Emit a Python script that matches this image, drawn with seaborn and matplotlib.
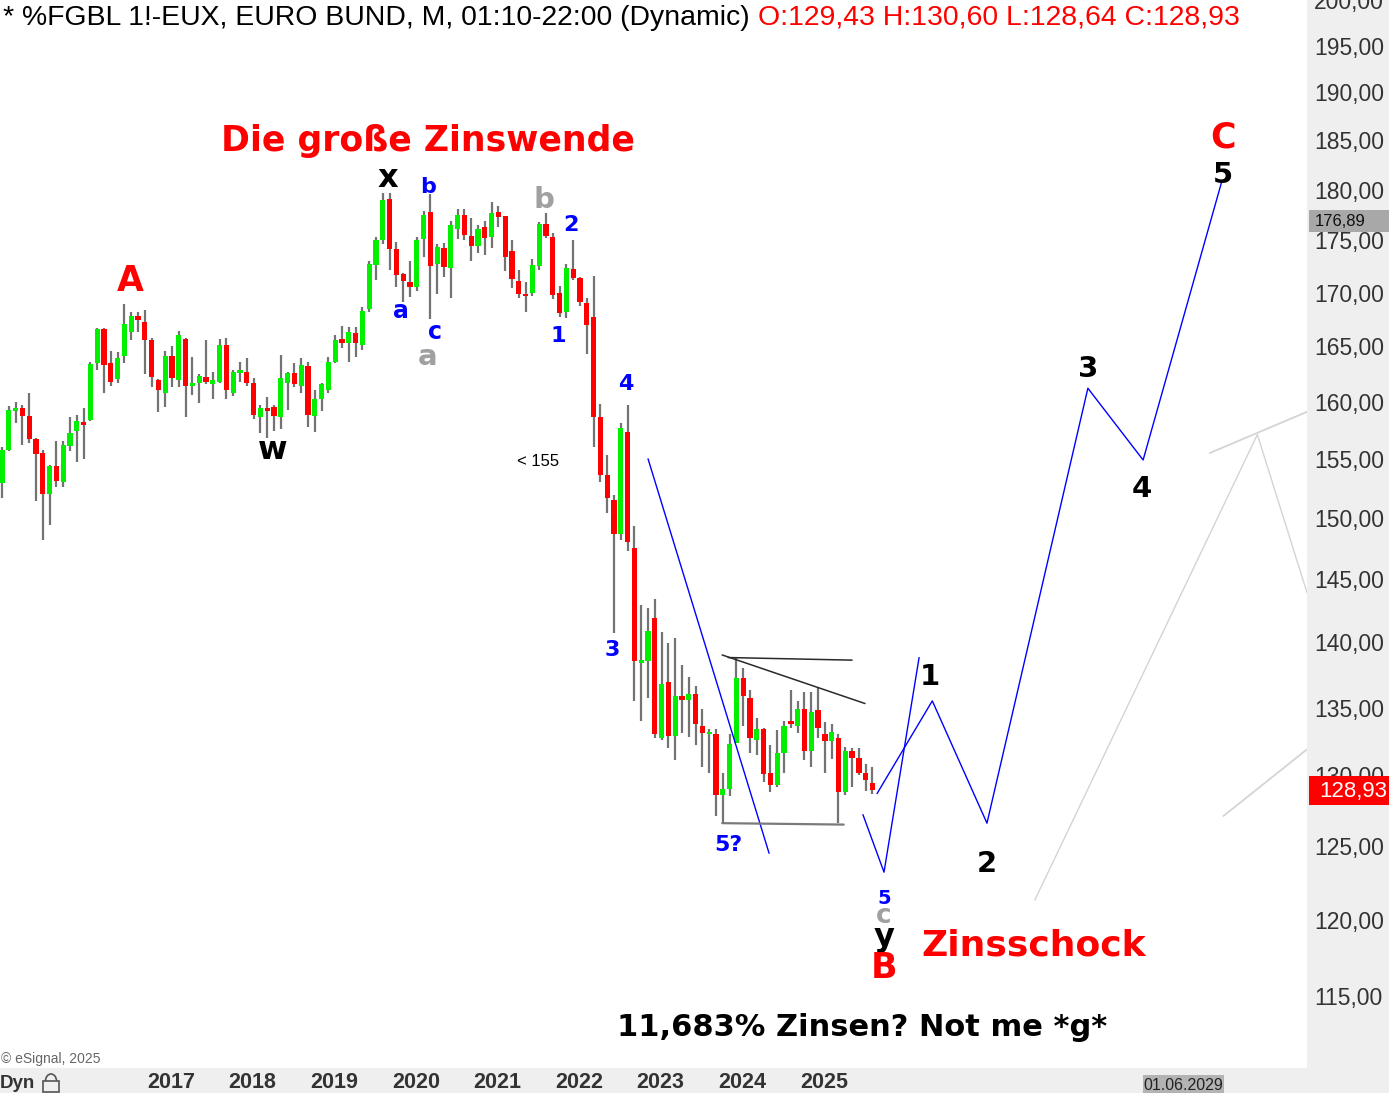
import numpy as np
import pandas as pd
import matplotlib
matplotlib.use('Agg')
import matplotlib.pyplot as plt
import seaborn as sns
from matplotlib.patches import Rectangle, Arc
from matplotlib.ticker import FixedLocator, NullLocator

sns.set_theme(style='white')
plt.rcParams['font.family'] = ['Liberation Sans', 'DejaVu Sans']

# monthly EURO BUND candles, Dec 2014 .. Aug 2025
months = pd.period_range('2014-12', '2025-08', freq='M')
opens = [152.9, 155.8, 159.2, 159.4, 158.7, 156.7, 155.5, 152.0, 154.4, 153.0,
         156.1, 157.4, 158.2, 158.4, 163.5, 166.6, 163.5, 162.0, 164.1, 166.3,
         167.8, 167.2, 165.6, 161.9, 160.8, 164.1, 161.9, 165.7, 161.4, 161.7,
         162.2, 161.6, 161.8, 165.1, 160.8, 162.6, 162.7, 161.7, 158.6, 159.4,
         159.5, 158.6, 161.7, 162.6, 161.4, 163.2, 158.7, 160.2, 161.0, 163.6,
         165.7, 165.3, 166.2, 165.1, 168.5, 172.6, 175.0, 179.1, 174.2, 171.8,
         171.0, 170.5, 175.1, 177.8, 172.7, 174.3, 172.3, 176.1, 177.5, 175.4,
         174.5, 176.3, 175.3, 177.8, 177.4, 174.0, 171.1, 169.9, 170.0, 172.5,
         176.6, 175.3, 170.0, 168.2, 172.2, 171.4, 169.0, 167.7, 158.6, 153.6,
         151.5, 148.7, 157.3, 147.5, 138.4, 138.5, 141.9, 132.7, 136.9, 132.9,
         135.9, 135.6, 136.0, 133.6, 133.0, 133.0, 128.6, 129.0, 132.4, 137.2,
         135.7, 132.6, 133.4, 130.2, 129.3, 131.6, 134.0, 133.6, 134.9, 131.8,
         134.8, 133.0, 132.5, 132.7, 128.8, 131.8, 131.3, 130.2, 129.43]
highs = [156.0, 159.6, 160.0, 159.7, 160.8, 156.8, 155.8, 154.5, 156.5, 156.5,
         158.6, 158.8, 159.4, 163.6, 166.7, 166.7, 164.6, 164.5, 168.9, 168.2,
         168.2, 168.4, 165.8, 162.0, 164.6, 165.0, 166.4, 165.8, 164.0, 162.5,
         165.6, 162.7, 165.7, 165.8, 162.8, 163.6, 163.9, 162.1, 159.7, 160.4,
         159.7, 164.2, 162.7, 163.5, 163.9, 163.6, 161.0, 161.7, 164.0, 166.0,
         166.9, 166.8, 166.8, 168.6, 173.0, 175.3, 179.7, 179.7, 174.8, 171.9,
         173.0, 175.3, 177.9, 179.6, 174.6, 174.7, 176.9, 178.1, 178.1, 177.2,
         176.5, 176.9, 178.8, 178.4, 177.4, 175.0, 172.1, 171.0, 173.2, 176.8,
         177.7, 175.7, 170.6, 172.7, 175.0, 171.5, 169.5, 171.6, 159.8, 155.3,
         151.9, 158.1, 159.7, 149.3, 142.9, 142.7, 143.4, 140.8, 139.9, 140.3,
         138.2, 137.3, 136.6, 134.9, 133.4, 133.4, 130.2, 133.0, 138.8, 138.0,
         136.3, 134.2, 133.5, 132.2, 133.3, 134.0, 136.3, 135.5, 136.2, 136.2,
         136.5, 133.9, 133.8, 133.0, 132.1, 132.0, 132.0, 130.8, 130.60]
lows = [151.7, 155.7, 158.1, 156.2, 156.4, 151.4, 148.2, 149.4, 152.6, 152.6,
        155.7, 154.7, 155.0, 158.3, 162.8, 160.8, 161.4, 161.7, 163.5, 165.6,
        166.3, 162.5, 161.3, 159.1, 159.5, 161.3, 161.3, 158.6, 160.6, 159.9,
        161.6, 160.2, 161.7, 160.2, 160.5, 161.8, 161.4, 158.5, 157.2, 156.8,
        157.4, 157.6, 159.3, 161.3, 160.8, 157.8, 157.3, 159.2, 160.8, 163.5,
        164.8, 163.6, 164.0, 164.7, 168.2, 171.2, 174.6, 172.1, 170.5, 169.1,
        169.6, 170.1, 173.4, 167.5, 169.9, 171.5, 169.5, 175.1, 175.0, 173.0,
        173.8, 173.6, 174.3, 176.3, 172.0, 170.4, 169.5, 168.2, 169.7, 172.1,
        175.2, 169.4, 167.7, 167.6, 171.2, 168.7, 164.3, 156.0, 153.0, 150.4,
        140.7, 148.2, 147.3, 135.5, 134.0, 135.7, 132.7, 132.6, 132.0, 131.1,
        133.1, 132.8, 132.2, 130.6, 130.2, 127.1, 126.6, 128.5, 132.4, 133.6,
        131.6, 131.5, 129.5, 128.8, 129.2, 130.2, 133.5, 133.1, 131.1, 130.6,
        132.7, 130.2, 131.2, 126.6, 128.6, 129.2, 130.0, 128.9, 128.64]
closes = [155.8, 159.3, 159.4, 158.7, 156.7, 155.4, 152.0, 154.4, 153.1, 156.2,
          157.2, 158.3, 157.9, 163.4, 166.6, 163.3, 161.8, 163.9, 167.1, 167.8,
          167.4, 165.6, 162.2, 161.0, 164.1, 162.1, 166.0, 161.4, 161.7, 162.3,
          161.8, 161.9, 165.1, 161.0, 162.7, 162.7, 161.7, 158.8, 159.4, 159.2,
          158.7, 162.1, 162.6, 161.6, 163.3, 158.8, 160.2, 161.6, 163.6, 165.6,
          165.3, 166.3, 165.3, 168.3, 172.7, 175.0, 179.0, 174.2, 171.7, 171.1,
          170.5, 175.0, 177.5, 172.5, 174.4, 172.4, 176.5, 177.5, 175.5, 174.5,
          176.1, 175.2, 177.7, 177.3, 173.4, 171.3, 169.9, 169.7, 172.6, 176.6,
          175.4, 169.8, 168.1, 172.3, 171.4, 169.1, 167.0, 158.6, 153.6, 151.7,
          148.7, 157.7, 148.0, 138.5, 138.5, 140.9, 133.0, 136.8, 132.9, 135.9,
          135.6, 136.0, 133.8, 133.1, 133.2, 128.6, 129.0, 132.3, 137.2, 135.9,
          132.7, 133.4, 130.1, 129.3, 131.6, 133.6, 133.8, 134.9, 131.8, 134.7,
          133.5, 132.5, 133.2, 128.8, 131.8, 131.3, 130.2, 129.7, 128.93]

year_ticks = list(range(2017, 2026))
price_ticks = list(range(115, 205, 5))

# drawn wave count / projection (date, price)
wave5q_dates = ['2022-11-01', '2024-04-25']
wave5q_prices = [155.0, 124.5]
low_leg_dates = ['2025-06-19', '2025-09-22', '2026-02-25']
low_leg_prices = [127.2, 123.2, 138.8]
impulse_dates = ['2025-08-22', '2026-04-25', '2026-12-27', '2028-03-22', '2028-11-25', '2029-11-13']
impulse_prices = [128.7, 135.5, 126.6, 161.2, 154.9, 180.9]
tri_flat_dates = ['2023-10-25', '2025-05-01']
tri_flat_prices = [138.8, 138.6]
tri_slope_dates = ['2023-09-28', '2025-06-28']
tri_slope_prices = [139.0, 135.3]
tri_base_dates = ['2023-09-28', '2025-03-25']
tri_base_prices = [126.6, 126.5]
grey_a_dates = ['2029-09-19', '2030-11-28']
grey_a_prices = [155.5, 159.1]
grey_b_dates = ['2027-07-28', '2030-04-19', '2030-11-28']
grey_b_prices = [121.3, 157.1, 143.9]
grey_c_dates = ['2029-11-19', '2030-11-28']
grey_c_prices = [127.1, 131.9]


def mpos(d):
    t = pd.Timestamp(d)
    return (t.year - 2014) * 12 + t.month - 12 + (t.day - 1) / t.days_in_month


W, H = 1389, 1093
PW, PH = 1307, 1068

fig = plt.figure(figsize=(W / 100, H / 100), dpi=100, facecolor='#efefef')
ax = fig.add_axes([0, (H - PH) / H, PW / W, PH / H])
ax.set_facecolor('white')

# candles
df = pd.DataFrame({'month': months.astype(str), 'open': opens, 'high': highs,
                   'low': lows, 'close': closes})
df['pos'] = np.arange(len(df))
df['up'] = df['close'] >= df['open']
body_lo = np.minimum(df['open'], df['close'])
body_h = np.maximum((df['close'] - df['open']).abs(), 0.2)
ax.vlines(df['pos'], df['low'], df['high'], color='#737373', lw=1.6, zorder=2)
ax.bar(df['pos'], body_h, bottom=body_lo, width=0.78,
       color=np.where(df['up'], '#00f000', '#ff0000'), linewidth=0, zorder=3)


def path(dates, prices, color, lw, z=4):
    sns.lineplot(x=[mpos(d) for d in dates], y=prices, sort=False, estimator=None,
                 color=color, lw=lw, ax=ax, zorder=z)


path(wave5q_dates, wave5q_prices, '#0000ff', 1.0)
path(low_leg_dates, low_leg_prices, '#0000ff', 1.0)
path(impulse_dates, impulse_prices, '#0000ff', 1.0)
path(tri_flat_dates, tri_flat_prices, '#2a2a2a', 1.1)
path(tri_slope_dates, tri_slope_prices, '#2a2a2a', 1.1)
path(tri_base_dates, tri_base_prices, '#7a7a7a', 1.6)
path(grey_a_dates, grey_a_prices, '#d4d4d4', 1.3, 1)
path(grey_b_dates, grey_b_prices, '#d4d4d4', 1.0, 1)
path(grey_c_dates, grey_c_prices, '#d4d4d4', 1.3, 1)

ax.set_yscale('log')
ax.set_xlim(-0.294, 191.9)
ax.set_ylim(110.5, 200.0)
for s in ax.spines.values():
    s.set_visible(False)
ax.grid(False)

ax.yaxis.tick_right()
ax.yaxis.set_major_locator(FixedLocator(price_ticks))
ax.yaxis.set_minor_locator(NullLocator())
ax.set_yticklabels([f'{v:.2f}'.replace('.', ',') for v in price_ticks])
ax.tick_params(axis='y', length=0, pad=5, labelsize=16.5, labelcolor='#333333')
ax.set_xticks([mpos(f'{y}-01-01') - 0.15 for y in year_ticks])
ax.set_xticklabels([str(y) for y in year_ticks], fontweight='bold')
ax.tick_params(axis='x', length=0, pad=3, labelsize=15.5, labelcolor='#333333')
ax.set_xlabel('')
ax.set_ylabel('')


def lab(x, y, s, color, size, weight='bold', family='DejaVu Sans'):
    ax.text(x / PW, 1 - y / PH, s, transform=ax.transAxes, ha='center', va='baseline',
            color=color, fontsize=size, fontweight=weight, family=family, zorder=6)


RED, BLUE, GREY = '#ff0000', '#0000ff', '#a0a0a0'
lab(428, 151, 'Die große Zinswende', RED, 25)
lab(130, 291, 'A', RED, 25)
lab(388, 187, 'x', 'black', 23)
lab(273, 459, 'w', 'black', 23)
lab(428, 193, 'b', BLUE, 16)
lab(401, 318, 'a', BLUE, 17)
lab(435, 339, 'c', BLUE, 17)
lab(428, 365, 'a', GREY, 21)
lab(544, 208, 'b', GREY, 21)
lab(571, 231, '2', BLUE, 16)
lab(558, 342, '1', BLUE, 16)
lab(626, 390, '4', BLUE, 16)
lab(612, 656, '3', BLUE, 16)
lab(728, 851, '5?', BLUE, 16)
lab(538, 466, '< 155', 'black', 12, 'normal', 'Liberation Sans')
lab(884, 904, '5', BLUE, 14)
lab(884, 923, 'c', GREY, 19)
lab(884, 946, 'y', 'black', 23)
lab(884, 978, 'B', RED, 25)
lab(1034, 955, 'Zinsschock', RED, 26)
lab(930, 685, '1', 'black', 21)
lab(987, 872, '2', 'black', 21)
lab(1088, 377, '3', 'black', 21)
lab(1142, 497, '4', 'black', 21)
lab(1223, 183, '5', 'black', 21)
lab(1223, 147, 'C', RED, 25)
lab(862, 1036, '11,683% Zinsen? Not me *g*', 'black', 22)
ax.text(1 / PW, 1 - 1063 / PH, '© eSignal, 2025', transform=ax.transAxes,
        fontsize=10, color='#666666', va='baseline', ha='left')


# header line
def fx(x):
    return x / W


def fy(y):
    return 1 - y / H


hdr = fig.text(fx(3), fy(18), '* %FGBL 1!-EUX, EURO BUND, M, 01:10-22:00 (Dynamic)',
               fontsize=20.4, color='black', va='center', ha='left', zorder=5)
fig.canvas.draw()
bb = hdr.get_window_extent()
fig.text(bb.x1 / W + fx(8), fy(18), 'O:129,43 H:130,60 L:128,64 C:128,93',
         fontsize=20.4, color='#ff0000', va='center', ha='left', zorder=5)

# price boxes on the scale
fig.patches.append(Rectangle((fx(1309), fy(232)), fx(80), 22 / H, transform=fig.transFigure,
                             facecolor='#a8a8a8', edgecolor='none', zorder=2))
fig.text(fx(1315), fy(221), '176,89', fontsize=12, color='#111111', va='center', zorder=5)
fig.patches.append(Rectangle((fx(1309), fy(805)), fx(80), 29 / H, transform=fig.transFigure,
                             facecolor='#ff0000', edgecolor='none', zorder=2))
fig.text(fx(1319), fy(791), '128,93', fontsize=16, color='white', va='center', zorder=5)

# bottom bar
fig.patches.append(Rectangle((fx(1143), 0), fx(81), 18 / H, transform=fig.transFigure,
                             facecolor='#b3b3b3', edgecolor='none', zorder=2))
fig.text(fx(1183), fy(1086), '01.06.2029', fontsize=11.5, color='#222222',
         ha='center', va='center', zorder=5)
fig.text(fx(0), fy(1083), 'Dyn', fontsize=13.5, fontweight='bold', color='#333333',
         ha='left', va='center', zorder=5)
fig.patches.append(Rectangle((fx(43), fy(1092)), fx(16), 11 / H, transform=fig.transFigure,
                             facecolor='none', edgecolor='#555555', lw=1.2, zorder=3))
fig.patches.append(Arc((fx(51), fy(1081)), fx(11), 14 / H, theta1=0, theta2=180,
                       transform=fig.transFigure, edgecolor='#555555', lw=1.2, zorder=3))

fig.savefig('out.png', dpi=100, facecolor=fig.get_facecolor())
